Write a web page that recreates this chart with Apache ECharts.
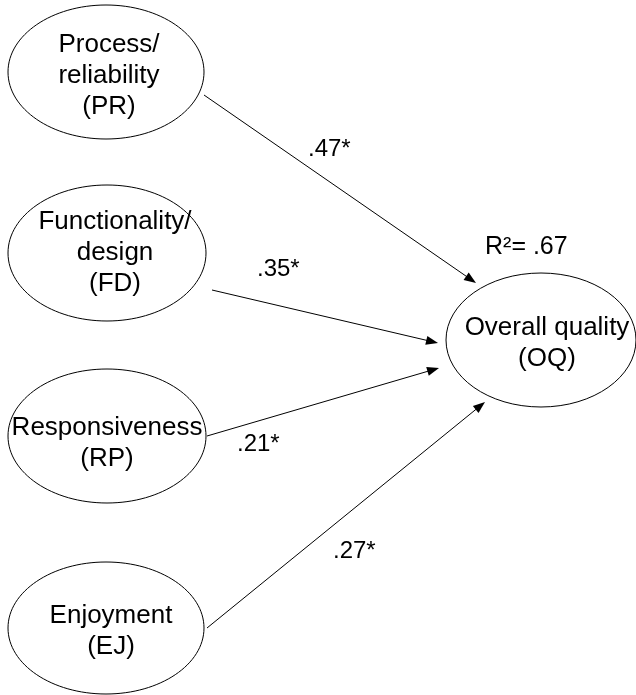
<!DOCTYPE html>
<html>
<head>
<meta charset="utf-8">
<title>Path model</title>
<script src="https://cdn.jsdelivr.net/npm/echarts@6/dist/echarts.min.js"></script>
<style>
  html, body { margin: 0; padding: 0; background: #fff; }
  #main { width: 636px; height: 695px; }
</style>
</head>
<body>
<div id="main"></div>
<script>
// constructs and path coefficients
const nodeNames = ['Process/\nreliability\n(PR)', 'Functionality/\ndesign\n(FD)', 'Responsiveness\n(RP)', 'Enjoyment\n(EJ)', 'Overall quality\n(OQ)'];
const pathSources = [0, 1, 2, 3];
const pathTarget = 4;
const pathCoefs = ['.47*', '.35*', '.21*', '.27*'];
const rSquared = 'R\u00b2= .67';

// diagram layout (drawing units = axis units)
const nodeCenter = [[106, 72], [107, 253], [107, 436], [106, 628], [541, 340]];
const nodeRadius = [[98, 67], [99, 68], [99, 67], [98, 66], [95, 67]];
const nodeTextShift = [[3, 4], [8, 0], [0, 7], [5, 3], [6, 3]];
// start point on source ellipse, arrow tip on target ellipse
const pathStart = [[204, 95], [212, 290], [207, 436], [207, 628]];
const pathEnd = [[476, 283], [438, 343], [439, 368], [485, 402]];
// label anchors (left, baseline)
const coefPos = [[308, 158], [257, 278], [237, 453], [333, 560]];
const r2Pos = [485, 256];

const FONT = '"Liberation Sans", Arial, sans-serif';

const chart = echarts.init(document.getElementById('main'), null, { renderer: 'canvas' });

function renderNode(params, api) {
    const i = params.dataIndex;
    const c = api.coord(nodeCenter[i]);
    const r = api.size(nodeRadius[i]);
    const t = api.coord([nodeCenter[i][0] + nodeTextShift[i][0], nodeCenter[i][1] + nodeTextShift[i][1]]);
    return {
        type: 'group',
        children: [{
            type: 'ellipse',
            shape: { cx: c[0], cy: c[1], rx: r[0], ry: r[1] },
            style: { fill: '#fff', stroke: '#000', lineWidth: 1 }
        }, {
            type: 'text',
            x: t[0],
            y: t[1],
            style: {
                text: nodeNames[i],
                font: '26px ' + FONT,
                lineHeight: 31,
                fill: '#000',
                align: 'center',
                verticalAlign: 'middle'
            }
        }]
    };
}

function renderPath(params, api) {
    const i = params.dataIndex;
    const a = api.coord(pathStart[i]);
    const b = api.coord(pathEnd[i]);
    const dx = b[0] - a[0], dy = b[1] - a[1];
    const len = Math.sqrt(dx * dx + dy * dy);
    const ux = dx / len, uy = dy / len;
    const headLen = 12, headHalf = 4.5;
    const bx = b[0] - ux * headLen, by = b[1] - uy * headLen;
    return {
        type: 'group',
        children: [{
            type: 'line',
            shape: { x1: a[0], y1: a[1], x2: bx + ux, y2: by + uy },
            style: { stroke: '#000', lineWidth: 1 }
        }, {
            type: 'polygon',
            shape: { points: [[b[0], b[1]], [bx - uy * headHalf, by + ux * headHalf], [bx + uy * headHalf, by - ux * headHalf]] },
            style: { fill: '#000' }
        }]
    };
}

function renderText(list, size) {
    return function (params, api) {
        const i = params.dataIndex;
        const p = api.coord(list[i].pos);
        return {
            type: 'text',
            x: p[0],
            y: p[1] - size * 0.36,
            style: {
                text: list[i].text,
                font: size + 'px ' + FONT,
                fill: '#000',
                align: 'left',
                verticalAlign: 'middle'
            }
        };
    };
}

const coefLabels = pathCoefs.map((t, i) => ({ text: t, pos: coefPos[i] }));
const r2Labels = [{ text: rSquared, pos: r2Pos }];

const option = {
    backgroundColor: '#fff',
    animation: false,
    grid: { left: 0, right: 0, top: 0, bottom: 0 },
    xAxis: { type: 'value', min: 0, max: 636, show: false },
    yAxis: { type: 'value', min: 0, max: 695, inverse: true, show: false },
    series: [{
        type: 'custom',
        renderItem: renderPath,
        data: pathSources.map((s, i) => [pathStart[i][0], pathStart[i][1], pathTarget]),
        z: 2
    }, {
        type: 'custom',
        renderItem: renderNode,
        data: nodeNames.map((n, i) => [nodeCenter[i][0], nodeCenter[i][1]]),
        z: 3
    }, {
        type: 'custom',
        renderItem: renderText(coefLabels, 24),
        data: coefLabels.map(l => l.pos),
        z: 4
    }, {
        type: 'custom',
        renderItem: renderText(r2Labels, 25),
        data: r2Labels.map(l => l.pos),
        z: 4
    }]
};

chart.setOption(option);
</script>
</body>
</html>
